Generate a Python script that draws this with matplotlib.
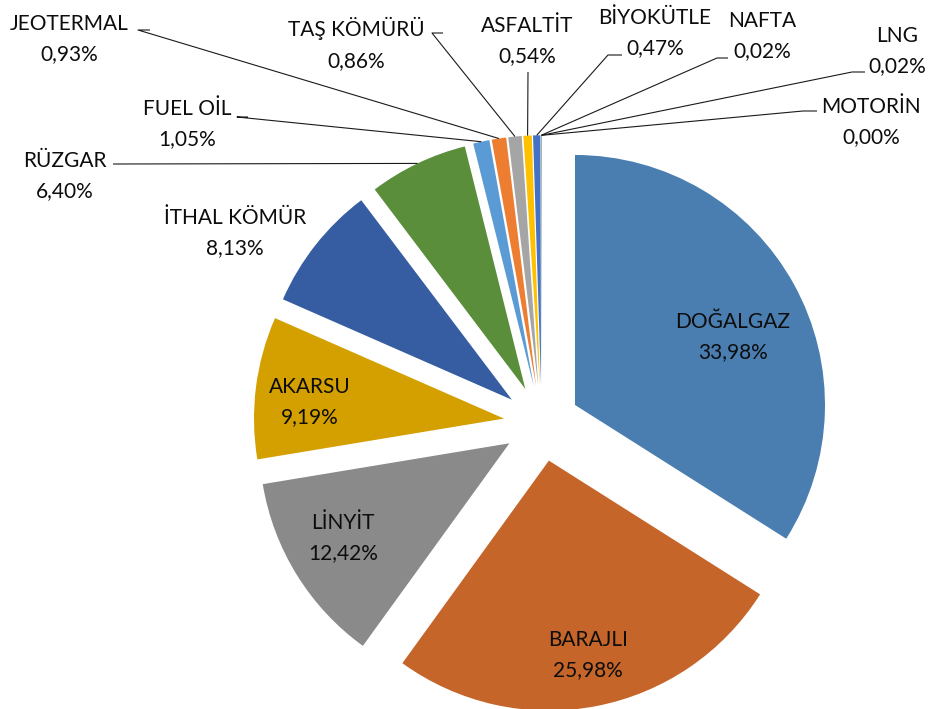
import matplotlib.pyplot as plt
import numpy as np

plt.rcParams['font.family'] = ['Lato', 'DejaVu Sans']

# electricity generation shares by source (%)
labels = ['DOĞALGAZ', 'BARAJLI', 'LİNYİT', 'AKARSU', 'İTHAL KÖMÜR', 'RÜZGAR',
          'FUEL OİL', 'JEOTERMAL', 'TAŞ KÖMÜRÜ', 'ASFALTİT', 'BİYOKÜTLE',
          'NAFTA', 'LNG', 'MOTORİN']
shares = [33.98, 25.98, 12.42, 9.19, 8.13, 6.40, 1.05, 0.93, 0.86, 0.54,
          0.47, 0.02, 0.02, 0.00]
colors = ['#4a7eb1', '#c5652a', '#8a8a8a', '#d3a000', '#365da2', '#5a8e3a',
          '#5b9bd5', '#ed7d31', '#a5a5a5', '#ffc000', '#4472c4', '#70ad47',
          '#264478', '#9e480e']

W, H = 933, 709
# label centres in pixels (from top left)
label_pos = [(733, 337), (588, 655), (343, 538), (310, 402), (235, 233),
             (65, 176), (187, 124), (69, 39), (356, 44), (527, 41),
             (655, 33), (762, 36), (897, 51), (871, 122)]
# where the leader line leaves the label: (start, elbow), None = no leader
leaders = [None, None, None, None, None,
           ((113, 164), (113, 164)),
           ((248, 117), (237, 117)),
           ((150, 30), (138, 30)),
           ((443, 33), (432, 33)),
           ((528, 72), (528, 72)),
           ((622, 55), (608, 55)),
           ((728, 58), (717, 58)),
           ((865, 72), (852, 72)),
           ((817, 111), (803, 111))]

fig = plt.figure(figsize=(W / 100, H / 100), dpi=100)
ax = fig.add_axes([0, 0, 1, 1])

# explode is in data units here (1 unit = 1 px)
wedges, _ = ax.pie(shares, colors=colors, explode=[38] * len(shares),
                   startangle=90, counterclock=False, radius=250,
                   center=(541.7, H - 423.3), wedgeprops=dict(linewidth=0))
ax.set_xlim(0, W)
ax.set_ylim(0, H)
ax.set_aspect('auto')
ax.axis('off')

for i, w in enumerate(wedges):
    txt = labels[i] + '\n' + '{:.2f}%'.format(shares[i]).replace('.', ',')
    x, y = label_pos[i]
    ax.text(x, H - y, txt, ha='center', va='center', fontsize=15,
            linespacing=1.65, color='#0d0d0d')
    if leaders[i] is None:
        continue
    mid = np.deg2rad((w.theta1 + w.theta2) / 2)
    ex = w.center[0] + w.r * np.cos(mid)
    ey = w.center[1] + w.r * np.sin(mid)
    (sx, sy), (bx, by) = leaders[i]
    ax.plot([sx, bx, ex], [H - sy, H - by, ey], color='#1a1a1a', lw=0.8,
            solid_capstyle='butt')

fig.savefig('out.png', dpi=100)
